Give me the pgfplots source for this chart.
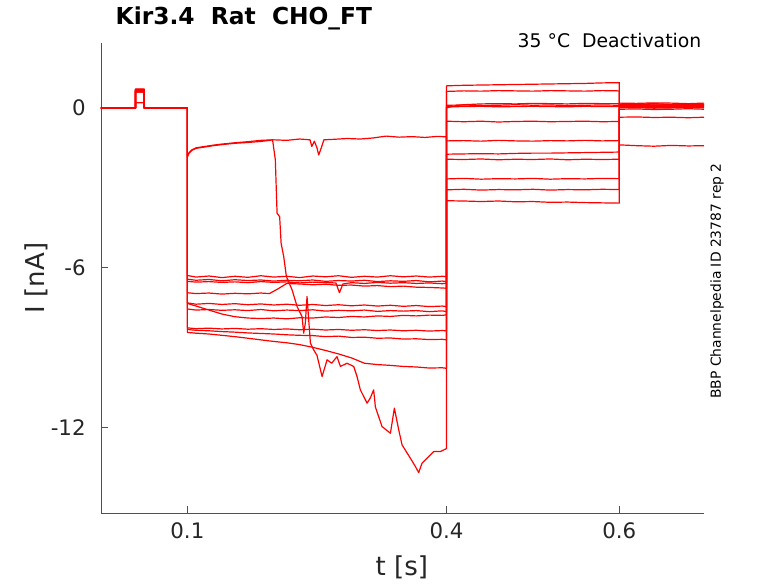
\documentclass[border=0pt]{standalone}
\usepackage{fontspec}
\setmainfont{DejaVu Sans}
\usepackage{pgfplots}
\pgfplotsset{compat=1.18}
\definecolor{axgray}{RGB}{80,80,80}
\definecolor{txtgray}{RGB}{38,38,38}
\begin{document}
\begin{tikzpicture}[x=1pt,y=1pt]
\useasboundingbox (-75.75,-52.5) rectangle (507.75,384.75);
\begin{axis}[
  at={(0,0)}, anchor=south west,
  scale only axis, width=452.25pt, height=352.5pt,
  xmin=0, xmax=0.698, ymin=-15.23, ymax=2.44,
  clip=false,
  axis x line=bottom, axis y line=left,
  axis line style={-, axgray, line width=0.6pt},
  tick align=inside, major tick length=5.25pt,
  tick style={axgray, line width=0.6pt},
  xtick={0.1,0.4,0.6}, xticklabels={0.1,0.4,0.6},
  ytick={-12,-6,0}, yticklabels={-12,-6,0},
  ticklabel style={font=\fontsize{16}{16}\selectfont, text=txtgray},
  xticklabel style={yshift=-4pt},
  yticklabel style={xshift=-8pt},
  xlabel={t [s]}, ylabel={I [nA]},
  xlabel style={at={(rel axis cs:0.499,-0.115)}, anchor=center, font=\fontsize{19.5}{20}\selectfont, text=txtgray},
  ylabel style={at={(rel axis cs:-0.108,0.5)}, anchor=center, font=\fontsize{19.5}{20}\selectfont, text=txtgray},
  tr/.style={red, line width=0.9pt, line join=round},
]
% trace 1
\addplot[tr] coordinates {(0,0)(0.04,0)(0.04,0.7)(0.05,0.7)(0.05,0)(0.1,0)
(0.1,-6.30)(0.11,-6.36)(0.125,-6.32)(0.14,-6.38)(0.155,-6.33)(0.17,-6.37)(0.185,-6.31)(0.2,-6.36)(0.215,-6.33)(0.23,-6.38)(0.245,-6.32)(0.26,-6.35)(0.275,-6.31)(0.29,-6.37)(0.305,-6.33)(0.32,-6.36)(0.335,-6.31)(0.35,-6.35)(0.365,-6.32)(0.38,-6.36)(0.395,-6.33)(0.4,-6.34)
(0.4,0.83)(0.42,0.85)(0.44,0.86)(0.46,0.87)(0.48,0.88)(0.5,0.89)(0.52,0.90)(0.54,0.91)(0.56,0.92)(0.58,0.94)(0.6,0.95)
(0.6,0.15)(0.62,0.14)(0.64,0.16)(0.66,0.13)(0.68,0.15)(0.698,0.14)};
% trace 2
\addplot[tr] coordinates {(0,0)(0.04,0)(0.04,0.65)(0.05,0.65)(0.05,0)(0.1,0)
(0.1,-6.44)(0.11,-6.48)(0.125,-6.45)(0.14,-6.50)(0.155,-6.46)(0.17,-6.49)(0.185,-6.47)(0.2,-6.51)(0.215,-6.48)(0.23,-6.50)(0.245,-6.47)(0.26,-6.52)(0.275,-6.49)(0.29,-6.51)(0.305,-6.48)(0.32,-6.53)(0.335,-6.50)(0.35,-6.52)(0.365,-6.49)(0.38,-6.54)(0.395,-6.51)(0.4,-6.53)
(0.4,0.62)(0.42,0.64)(0.44,0.63)(0.46,0.65)(0.48,0.64)(0.5,0.63)(0.52,0.65)(0.54,0.64)(0.56,0.63)(0.58,0.65)(0.6,0.64)
(0.6,0.10)(0.62,0.09)(0.64,0.11)(0.66,0.10)(0.68,0.08)(0.698,0.10)};
% trace 3
\addplot[tr] coordinates {(0,0)(0.04,0)(0.04,0.6)(0.05,0.6)(0.05,0)(0.1,0)
(0.1,-6.52)(0.11,-6.55)(0.125,-6.53)(0.14,-6.56)(0.155,-6.54)(0.17,-6.57)(0.185,-6.53)(0.2,-6.56)(0.215,-6.54)(0.23,-6.58)(0.245,-6.55)(0.26,-6.57)(0.272,-6.58)(0.276,-6.95)(0.28,-6.62)(0.29,-6.57)(0.305,-6.60)(0.32,-6.56)(0.335,-6.59)(0.35,-6.57)(0.365,-6.60)(0.38,-6.58)(0.395,-6.61)(0.4,-6.59)
(0.4,0.0)(0.41,0.08)(0.42,0.12)(0.44,0.15)(0.46,0.16)(0.48,0.15)(0.5,0.17)(0.52,0.16)(0.54,0.15)(0.56,0.17)(0.58,0.16)(0.6,0.16)
(0.6,0.05)(0.62,0.06)(0.64,0.04)(0.66,0.05)(0.68,0.03)(0.698,0.05)};
% trace 4
\addplot[tr] coordinates {(0,0)(0.04,0)(0.04,0.68)(0.05,0.68)(0.05,0)(0.1,0)
(0.1,-6.95)(0.11,-6.98)(0.125,-6.96)(0.14,-7.00)(0.155,-6.97)(0.17,-6.99)(0.185,-6.96)(0.195,-6.98)(0.205,-6.80)(0.215,-6.60)(0.23,-6.62)(0.245,-6.65)(0.26,-6.63)(0.275,-6.67)(0.29,-6.66)(0.305,-6.70)(0.32,-6.68)(0.335,-6.72)(0.35,-6.70)(0.365,-6.74)(0.38,-6.75)(0.395,-6.77)(0.4,-6.78)
(0.4,0.04)(0.42,0.05)(0.44,0.06)(0.46,0.04)(0.48,0.05)(0.5,0.06)(0.52,0.05)(0.54,0.04)(0.56,0.06)(0.58,0.05)(0.6,0.05)
(0.6,0.12)(0.62,0.13)(0.64,0.11)(0.66,0.12)(0.68,0.14)(0.698,0.12)};
% trace 5
\addplot[tr] coordinates {(0,0)(0.04,0)(0.04,0.62)(0.05,0.62)(0.05,0)(0.1,0)
(0.1,-7.33)(0.11,-7.38)(0.125,-7.35)(0.14,-7.39)(0.155,-7.36)(0.17,-7.40)(0.185,-7.37)(0.2,-7.41)(0.215,-7.38)(0.23,-7.42)(0.245,-7.39)(0.26,-7.43)(0.275,-7.40)(0.29,-7.44)(0.305,-7.41)(0.32,-7.45)(0.335,-7.42)(0.35,-7.46)(0.365,-7.43)(0.38,-7.47)(0.395,-7.45)(0.4,-7.47)
(0.4,-0.50)(0.42,-0.52)(0.44,-0.50)(0.46,-0.53)(0.48,-0.51)(0.5,-0.50)(0.52,-0.52)(0.54,-0.51)(0.56,-0.50)(0.58,-0.52)(0.6,-0.51)
(0.6,0.0)(0.62,0.01)(0.64,-0.01)(0.66,0.0)(0.68,0.02)(0.698,0.0)};
% trace 6
\addplot[tr] coordinates {(0,0)(0.04,0)(0.04,0.66)(0.05,0.66)(0.05,0)(0.1,0)
(0.1,-7.56)(0.11,-7.60)(0.125,-7.58)(0.14,-7.61)(0.155,-7.59)(0.17,-7.62)(0.185,-7.58)(0.2,-7.63)(0.215,-7.60)(0.23,-7.62)(0.245,-7.59)(0.26,-7.64)(0.275,-7.61)(0.29,-7.63)(0.305,-7.60)(0.32,-7.65)(0.335,-7.62)(0.35,-7.64)(0.365,-7.62)(0.38,-7.66)(0.395,-7.63)(0.4,-7.66)
(0.4,-1.74)(0.42,-1.73)(0.44,-1.72)(0.46,-1.73)(0.48,-1.71)(0.5,-1.70)(0.52,-1.70)(0.54,-1.69)(0.56,-1.68)(0.58,-1.67)(0.6,-1.66)
(0.6,0.08)(0.62,0.07)(0.64,0.09)(0.66,0.08)(0.68,0.06)(0.698,0.08)};
% trace 7
\addplot[tr] coordinates {(0,0)(0.04,0)(0.04,0.7)(0.05,0.7)(0.05,0)(0.1,0)
(0.1,-7.35)(0.11,-7.45)(0.125,-7.60)(0.14,-7.75)(0.155,-7.85)(0.17,-7.90)(0.185,-7.92)(0.2,-7.90)(0.215,-7.93)(0.23,-7.89)(0.245,-7.90)(0.26,-7.86)(0.275,-7.88)(0.29,-7.84)(0.305,-7.86)(0.32,-7.82)(0.335,-7.84)(0.35,-7.80)(0.365,-7.82)(0.38,-7.79)(0.395,-7.80)(0.4,-7.78)
(0.4,-1.93)(0.42,-1.94)(0.44,-1.92)(0.46,-1.95)(0.48,-1.93)(0.5,-1.94)(0.52,-1.92)(0.54,-1.95)(0.56,-1.93)(0.58,-1.94)(0.6,-1.93)
(0.6,0.18)(0.62,0.17)(0.64,0.19)(0.66,0.18)(0.68,0.16)(0.698,0.18)};
% trace 8
\addplot[tr] coordinates {(0,0)(0.04,0)(0.04,0.6)(0.05,0.6)(0.05,0)(0.1,0)
(0.1,-8.27)(0.11,-8.30)(0.125,-8.28)(0.14,-8.31)(0.155,-8.29)(0.17,-8.32)(0.185,-8.30)(0.2,-8.33)(0.215,-8.31)(0.23,-8.34)(0.245,-8.32)(0.26,-8.35)(0.275,-8.33)(0.29,-8.36)(0.305,-8.34)(0.32,-8.37)(0.335,-8.35)(0.35,-8.38)(0.365,-8.36)(0.38,-8.39)(0.395,-8.37)(0.4,-8.38)
(0.4,-2.67)(0.42,-2.65)(0.44,-2.68)(0.46,-2.66)(0.48,-2.67)(0.5,-2.65)(0.52,-2.68)(0.54,-2.66)(0.56,-2.67)(0.58,-2.65)(0.6,-2.66)
(0.6,-0.05)(0.62,-0.04)(0.64,-0.06)(0.66,-0.05)(0.68,-0.03)(0.698,-0.05)};
% trace 9
\addplot[tr] coordinates {(0,0)(0.04,0)(0.04,0.65)(0.05,0.65)(0.05,0)(0.1,0)
(0.1,-8.33)(0.11,-8.36)(0.125,-8.38)(0.14,-8.41)(0.155,-8.43)(0.17,-8.46)(0.185,-8.48)(0.2,-8.50)(0.215,-8.53)(0.23,-8.55)(0.245,-8.56)(0.26,-8.60)(0.275,-8.58)(0.29,-8.63)(0.305,-8.62)(0.32,-8.66)(0.335,-8.65)(0.35,-8.69)(0.365,-8.68)(0.38,-8.71)(0.395,-8.70)(0.4,-8.72)
(0.4,-3.08)(0.42,-3.06)(0.44,-3.09)(0.46,-3.07)(0.48,-3.08)(0.5,-3.06)(0.52,-3.09)(0.54,-3.07)(0.56,-3.08)(0.58,-3.06)(0.6,-3.07)
(0.6,-0.35)(0.62,-0.34)(0.64,-0.36)(0.66,-0.35)(0.68,-0.37)(0.698,-0.35)};
% trace 10
\addplot[tr] coordinates {(0,0)(0.04,0)(0.04,0.19)(0.05,0.19)(0.05,0)(0.1,0)
(0.1,-8.44)(0.11,-8.47)(0.125,-8.50)(0.14,-8.55)(0.155,-8.60)(0.17,-8.66)(0.185,-8.72)(0.2,-8.78)(0.215,-8.83)(0.23,-8.90)(0.245,-9.00)(0.26,-9.12)(0.275,-9.25)(0.29,-9.40)(0.305,-9.60)(0.32,-9.65)(0.335,-9.68)(0.35,-9.72)(0.365,-9.74)(0.38,-9.78)(0.395,-9.77)(0.4,-9.79)
(0.4,-3.49)(0.42,-3.50)(0.44,-3.52)(0.46,-3.50)(0.48,-3.53)(0.5,-3.52)(0.52,-3.55)(0.54,-3.54)(0.56,-3.56)(0.58,-3.57)(0.6,-3.58)
(0.6,-1.39)(0.62,-1.42)(0.64,-1.44)(0.66,-1.41)(0.68,-1.43)(0.698,-1.42)};
% trace 11
\addplot[tr] coordinates {(0,0)(0.04,0)(0.04,0.7)(0.05,0.7)(0.05,0)(0.1,0)
(0.1,-1.85)(0.102,-1.70)(0.105,-1.60)(0.11,-1.52)(0.12,-1.47)(0.13,-1.42)(0.14,-1.38)(0.155,-1.33)(0.17,-1.30)(0.185,-1.26)(0.2,-1.20)(0.215,-1.22)(0.23,-1.17)(0.242,-1.20)(0.244,-1.45)(0.247,-1.25)(0.25,-1.50)(0.252,-1.77)(0.255,-1.50)(0.258,-1.20)(0.27,-1.18)(0.285,-1.15)(0.3,-1.17)(0.315,-1.13)(0.33,-1.06)(0.345,-1.10)(0.36,-1.08)(0.375,-1.11)(0.39,-1.07)(0.4,-1.09)
(0.4,-1.24)(0.42,-1.23)(0.44,-1.25)(0.46,-1.22)(0.48,-1.24)(0.5,-1.25)(0.52,-1.23)(0.54,-1.24)(0.56,-1.22)(0.58,-1.24)(0.6,-1.23)
(0.6,0.02)(0.62,0.03)(0.64,0.01)(0.66,0.02)(0.68,0.04)(0.698,0.02)};
% trace 12
\addplot[tr] coordinates {(0,0)(0.04,0)(0.04,0.68)(0.05,0.68)(0.05,0)(0.1,0)
(0.1,-1.80)(0.102,-1.68)(0.105,-1.58)(0.11,-1.50)(0.12,-1.45)(0.13,-1.40)(0.14,-1.36)(0.155,-1.31)(0.17,-1.27)(0.185,-1.22)(0.1986,-1.20)(0.2018,-1.95)(0.2038,-3.96)(0.2068,-4.09)(0.2085,-5.09)(0.2115,-5.59)(0.2146,-6.34)(0.2212,-6.84)(0.227,-7.47)(0.2328,-7.85)(0.2346,-8.47)(0.2365,-8.10)(0.2385,-7.09)(0.2405,-8.00)(0.2424,-8.84)(0.2462,-9.10)(0.25,-9.30)(0.2559,-10.10)(0.2617,-9.47)(0.267,-9.60)(0.2732,-9.35)(0.2771,-9.72)(0.2848,-9.60)(0.2925,-9.72)(0.2964,-10.10)(0.3002,-10.60)(0.308,-11.10)(0.3118,-10.90)(0.3156,-10.60)(0.3176,-11.24)(0.3253,-11.98)(0.33,-12.10)(0.335,-12.23)(0.3396,-11.29)(0.3446,-12.10)(0.3485,-12.67)(0.3581,-13.17)(0.3639,-13.48)(0.3677,-13.71)(0.3716,-13.36)(0.3793,-13.11)(0.3851,-12.92)(0.3928,-12.92)(0.3986,-12.83)(0.4,-12.80)
(0.4,0.10)(0.42,0.11)(0.44,0.09)(0.46,0.10)(0.48,0.12)(0.5,0.10)(0.52,0.11)(0.54,0.09)(0.56,0.10)(0.58,0.11)(0.6,0.10)
(0.6,0.10)(0.62,0.11)(0.64,0.09)(0.66,0.10)(0.68,0.12)(0.698,0.10)};
\node[anchor=west, font=\fontsize{17.5}{18}\selectfont\bfseries, text=black] at (rel axis cs:0.0166,1.053) {Kir3.4\ \ Rat\ \ CHO\_FT};
\node[anchor=east, font=\fontsize{14.1}{15}\selectfont, text=black] at (rel axis cs:1.0033,1.0064) {35 °C\ \ Deactivation};
\node[rotate=90, font=\fontsize{10.4}{11}\selectfont, text=black] at (rel axis cs:1.0216,0.4936) {BBP Channelpedia ID 23787 rep 2};
\end{axis}
\end{tikzpicture}
\end{document}
